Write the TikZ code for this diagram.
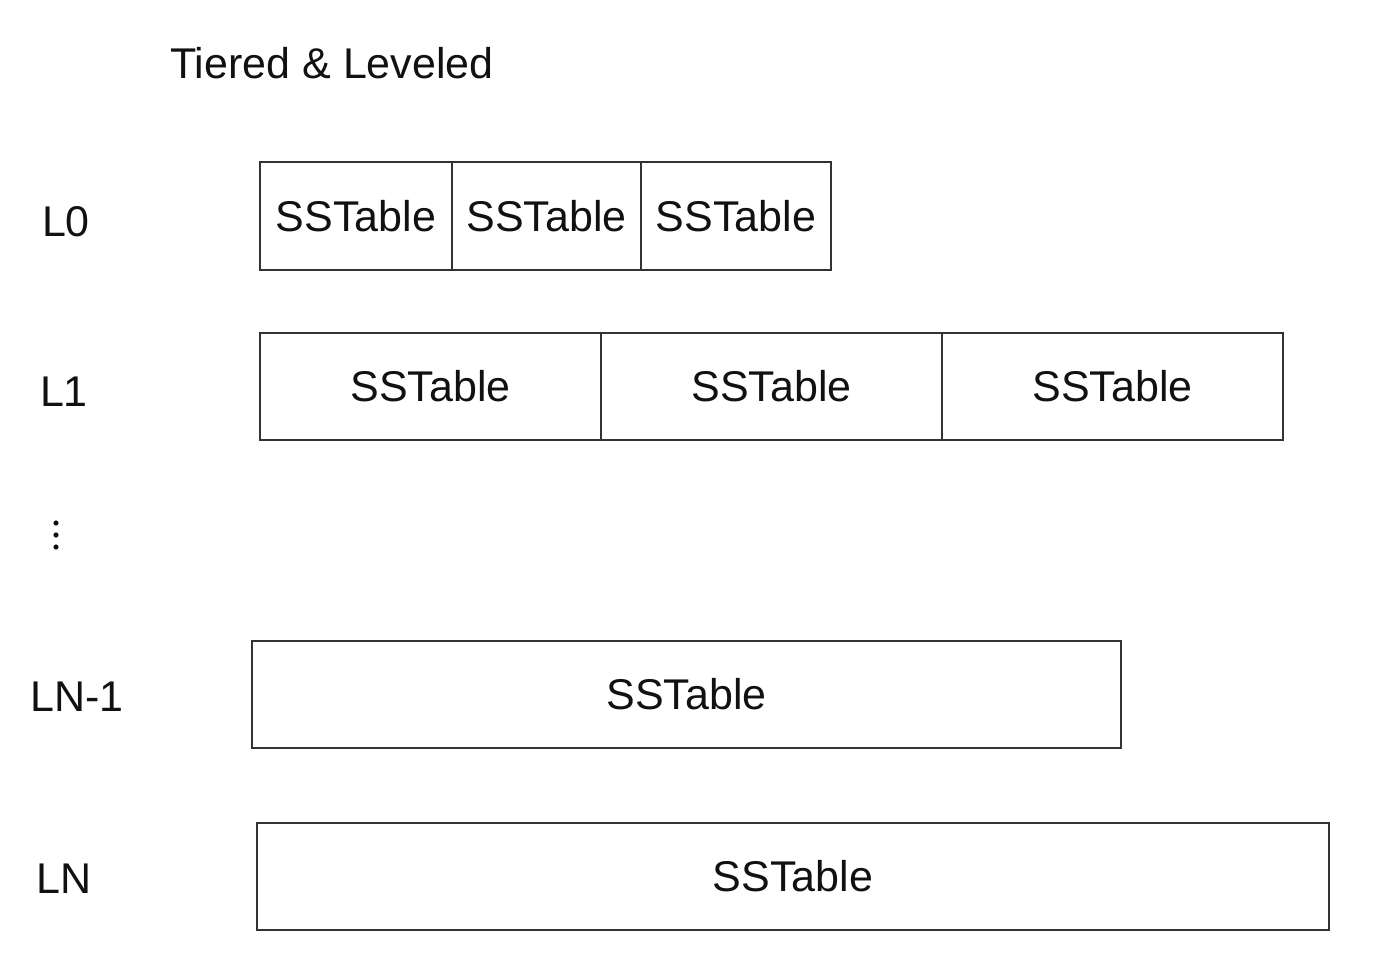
\documentclass[tikz,border=0pt]{standalone}
\usepackage{fontspec}
\setmainfont{Liberation Sans}
\definecolor{edge}{HTML}{333333}
\definecolor{ink}{HTML}{111111}
\begin{document}
\begin{tikzpicture}[x=1pt,y=-1pt,
  sst/.style={draw=edge,line width=2pt,inner sep=0pt,outer sep=0pt,text=ink,
    font=\fontsize{43}{50}\selectfont,anchor=north west},
  lbl/.style={inner sep=0pt,text=ink,font=\fontsize{43}{50}\selectfont},
  dotmark/.style={fill=ink,draw=none}]
\useasboundingbox (0,0) rectangle (1384,968);
\node[lbl,anchor=west] (title) at (170,63) {Tiered \& Leveled};
% L0
\node[lbl] (l0) at (66,222) {L0};
\node[sst,minimum width=192pt,minimum height=108pt] (a1) at (260,162) {SSTable};
\node[sst,minimum width=189pt,minimum height=108pt] (a2) at (452,162) {SSTable};
\node[sst,minimum width=190pt,minimum height=108pt] (a3) at (641,162) {SSTable};
% L1
\node[lbl] (l1) at (64,392) {L1};
\node[sst,minimum width=341pt,minimum height=107pt] (b1) at (260,333) {SSTable};
\node[sst,minimum width=341pt,minimum height=107pt] (b2) at (601,333) {SSTable};
\node[sst,minimum width=341pt,minimum height=107pt] (b3) at (942,333) {SSTable};
% dots
\fill[dotmark] (56,523) circle (2.6);
\fill[dotmark] (56,535) circle (2.6);
\fill[dotmark] (56,547) circle (2.6);
% LN-1
\node[lbl] (ln1) at (77,697) {LN-1};
\node[sst,minimum width=869pt,minimum height=107pt] (c1) at (252,641) {SSTable};
% LN
\node[lbl] (ln) at (64,879) {LN};
\node[sst,minimum width=1072pt,minimum height=107pt] (d1) at (257,823) {SSTable};
\end{tikzpicture}
\end{document}
